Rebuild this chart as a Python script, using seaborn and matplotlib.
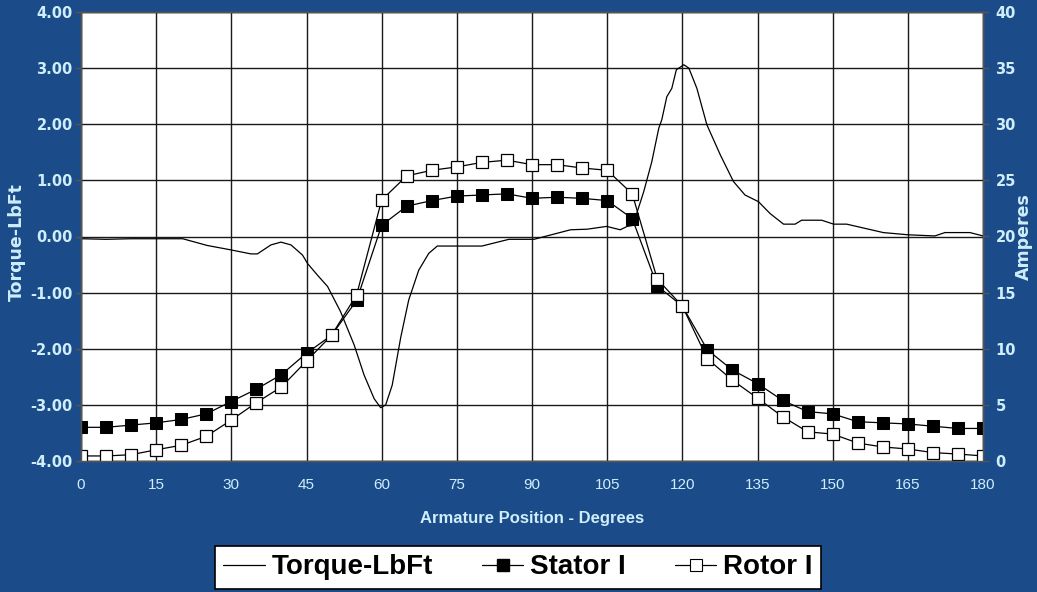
import matplotlib
matplotlib.use("Agg")
import matplotlib.pyplot as plt
import seaborn as sns
import pandas as pd
from matplotlib.lines import Line2D

# ---------------- data ----------------
cur_deg = [0, 5, 10, 15, 20, 25, 30, 35, 40, 45, 50, 55, 60, 65, 70, 75, 80, 85, 90,
           95, 100, 105, 110, 115, 120, 125, 130, 135, 140, 145, 150, 155, 160, 165,
           170, 175, 180]
stator_i = [3.0, 3.0, 3.2, 3.4, 3.7, 4.2, 5.3, 6.4, 7.7, 9.6, 11.2, 14.3, 21.0, 22.7,
            23.2, 23.6, 23.7, 23.8, 23.4, 23.5, 23.4, 23.2, 21.6, 15.6, 13.8, 9.9,
            8.1, 6.9, 5.4, 4.4, 4.2, 3.5, 3.4, 3.3, 3.1, 2.9, 2.9]
rotor_i = [0.45, 0.45, 0.56, 1.0, 1.4, 2.2, 3.65, 5.2, 6.6, 8.9, 11.2, 14.8, 23.25,
           25.4, 25.9, 26.2, 26.6, 26.8, 26.4, 26.4, 26.1, 25.9, 23.8, 16.2, 13.8,
           9.1, 7.2, 5.6, 3.95, 2.6, 2.4, 1.6, 1.25, 1.07, 0.75, 0.62, 0.45]

torque_deg = [0, 5, 10, 15, 20.3, 25.2, 30, 33.9, 35.2, 37.9, 39.9, 41.9, 44.2, 45.2,
              47.2, 49.2, 51.8, 54.5, 56.5, 58.5, 59.8, 60.8, 62.1, 63.8, 65.4, 67.4,
              69.4, 71.1, 80, 85.4, 90.4, 97.7, 101, 104.9, 107.6, 109, 110.3, 111,
              112.3, 113.9, 115.3, 115.9, 116.9, 117.9, 118.8, 120.3, 121.3, 122.9,
              124.9, 127.6, 130.2, 132.5, 135.2, 137.5, 140.2, 142.5, 143.8, 147.8,
              150.2, 152.8, 160.1, 165.1, 170.4, 172.4, 177.4, 180]
torque_lbft = [-0.04, -0.05, -0.04, -0.04, -0.04, -0.16, -0.24, -0.31, -0.31, -0.15,
               -0.10, -0.15, -0.33, -0.48, -0.69, -0.89, -1.34, -1.93, -2.47, -2.89,
               -3.05, -3.00, -2.65, -1.80, -1.13, -0.60, -0.30, -0.17, -0.17, -0.05,
               -0.05, 0.12, 0.13, 0.18, 0.12, 0.18, 0.20, 0.44, 0.80, 1.33, 1.93,
               2.08, 2.49, 2.64, 2.97, 3.06, 3.00, 2.64, 1.99, 1.45, 0.98, 0.74, 0.62,
               0.41, 0.22, 0.22, 0.29, 0.29, 0.22, 0.22, 0.07, 0.03, 0.01, 0.07, 0.07,
               0.01]

x_ticks = list(range(0, 181, 15))
torque_ticks = [-4, -3, -2, -1, 0, 1, 2, 3, 4]
amp_ticks = [0, 5, 10, 15, 20, 25, 30, 35, 40]
series_names = ["Torque-LbFt", "Stator I", "Rotor I"]

# ---------------- style ----------------
sns.set_theme(style="white")
plt.rcParams['font.family'] = ['DejaVu Sans']

BG = "#1c4b8a"
TXT = "#cdeefa"
W, H = 1037, 592

fig = plt.figure(figsize=(W / 100, H / 100), dpi=100, facecolor=BG)
ax = fig.add_axes([81 / W, 1 - 461 / H, 902 / W, 449 / H])
ax.set_facecolor("white")
ax2 = ax.twinx()

df_t = pd.DataFrame({"deg": torque_deg, "val": torque_lbft})
df_c = pd.DataFrame({"deg": cur_deg, "stator": stator_i, "rotor": rotor_i})

sns.lineplot(data=df_t, x="deg", y="val", ax=ax, color="black", lw=0.9,
             sort=False, legend=False)
sns.lineplot(data=df_c, x="deg", y="stator", ax=ax2, color="black", lw=0.9,
             marker="s", markersize=8.5, markerfacecolor="black",
             markeredgecolor="black", legend=False)
sns.lineplot(data=df_c, x="deg", y="rotor", ax=ax2, color="black", lw=0.9,
             marker="s", markersize=8.5, markerfacecolor="white",
             markeredgecolor="black", markeredgewidth=0.9, legend=False)

ax.set_xlim(0, 180)
ax.set_ylim(-4, 4)
ax2.set_ylim(0, 40)
ax.set_xticks(x_ticks)
ax.set_yticks(torque_ticks)
ax2.set_yticks(amp_ticks)
ax.set_xticklabels([str(v) for v in x_ticks])
ax.set_yticklabels([f"{v:.2f}" for v in torque_ticks])
ax2.set_yticklabels([str(v) for v in amp_ticks])

ax.grid(True, color="#1a1a1a", lw=1.0)
ax.set_axisbelow(True)
ax2.grid(False)

for a in (ax, ax2):
    for s in a.spines.values():
        s.set_color("#555555")
        s.set_linewidth(1.0)

ax.tick_params(axis="y", which="both", left=True, length=4, width=1, color="#555555",
               labelcolor=TXT, labelsize=10.5, pad=2)
ax.tick_params(axis="x", bottom=False, labelcolor=TXT, labelsize=10.5, pad=6)
ax2.tick_params(axis="y", right=True, length=4, width=1, color="#555555",
                labelcolor=TXT, labelsize=10.5, pad=5)
for lab in ax.get_yticklabels() + ax2.get_yticklabels():
    lab.set_fontweight("bold")
for lab in ax.get_xticklabels():
    lab.set_fontfamily("Liberation Sans")
    lab.set_fontsize(11)

ax.set_xlabel("Armature Position - Degrees", color=TXT, fontsize=12,
              fontweight="bold", family="Liberation Sans", labelpad=14)
ax.set_ylabel("")
ax2.set_ylabel("")
fig.text(16.5 / W, 1 - 242 / H, "Torque-LbFt", rotation=90, ha="center", va="center",
         color=TXT, fontsize=12.5, fontweight="bold", family="DejaVu Sans")
fig.text(1023.5 / W, 1 - 237 / H, "Amperes", rotation=90, ha="center", va="center",
         color=TXT, fontsize=12.5, fontweight="bold", family="DejaVu Sans")

handles = [
    Line2D([], [], color="black", lw=0.9),
    Line2D([], [], color="black", lw=0.9, marker="s", markersize=9,
           markerfacecolor="black"),
    Line2D([], [], color="black", lw=0.9, marker="s", markersize=8,
           markerfacecolor="white", markeredgewidth=0.8),
]
leg = fig.legend(handles, series_names,
                 loc="center", bbox_to_anchor=(518 / W, 1 - 567.5 / H), ncol=3,
                 frameon=True, fancybox=False, handlelength=1.5, handletextpad=0.25,
                 columnspacing=1.75, borderpad=0.3, borderaxespad=0,
                 labelcolor="black",
                 prop={"family": "Liberation Sans", "weight": "bold", "size": 20})
leg.get_frame().set_facecolor("white")
leg.get_frame().set_edgecolor("black")
leg.get_frame().set_linewidth(1.2)
leg.get_frame().set_alpha(1)

fig.savefig("out.png", dpi=100, facecolor=BG)
